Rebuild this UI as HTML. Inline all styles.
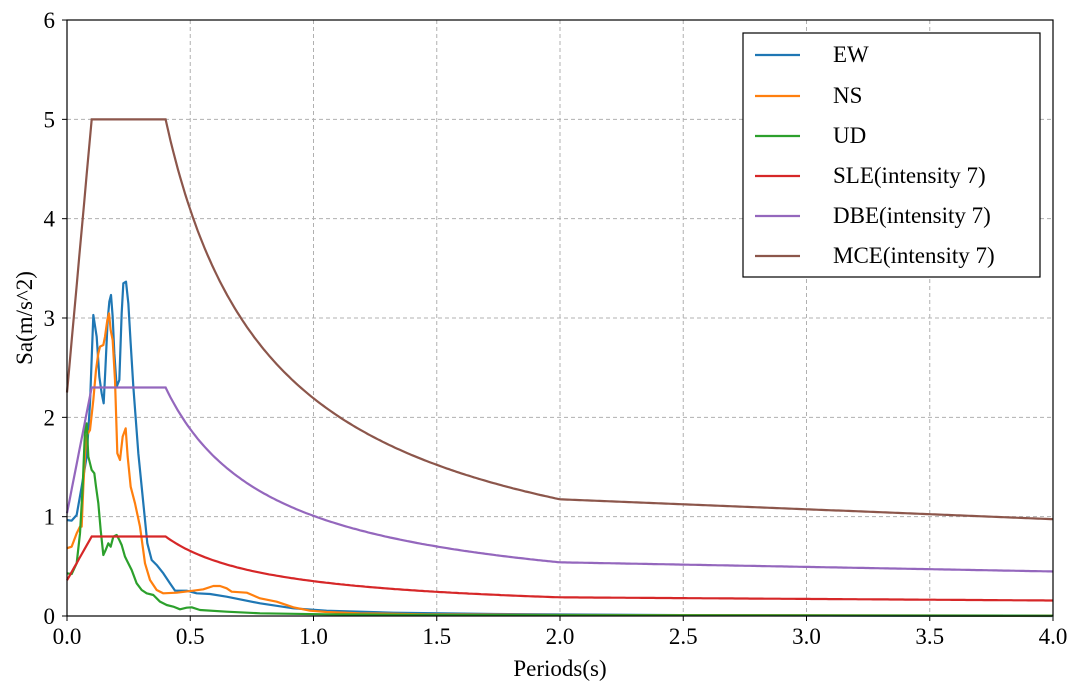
<!DOCTYPE html>
<html><head><meta charset="utf-8"><style>
body{margin:0;background:#fff}
svg text{font-family:"Liberation Serif",serif;fill:#000}
</style></head><body>
<svg id="s" width="1080" height="695" viewBox="0 0 1080 695" xmlns="http://www.w3.org/2000/svg">
<rect width="1080" height="695" fill="#fff"/>
<g id="grid" stroke="#b0b0b0" stroke-width="1" stroke-dasharray="4,3"></g>
<g id="ticks" font-size="23"></g>
<g transform="translate(60,270) scale(0.33333)" fill="none" stroke-width="2.2" stroke-linejoin="round">
<polyline vector-effect="non-scaling-stroke" stroke="#1f77b4" points="20,750 35,752 50,735 65,650 80,560 90,400 100,135 110,200 118,320 125,370 131,400 136,300 143,150 148,95 153,75 158,140 163,250 170,350 178,330 185,130 190,40 198,35 205,100 212,220 220,350 235,550 250,700 262,820 275,870 290,885 310,910 330,940 345,962 380,962 410,970 450,972 500,980 600,1000 700,1015 800,1022 1000,1028 1300,1032 2000,1036 2979,1038"/>
<polyline vector-effect="non-scaling-stroke" stroke="#ff7f0e" points="20,835 35,830 50,790 60,770 65,770 70,650 78,500 90,480 100,390 108,300 115,250 120,230 130,225 135,200 142,150 147,130 152,180 158,210 165,330 172,550 180,570 188,500 197,475 203,560 212,650 225,700 240,770 255,880 270,930 290,960 310,970 350,968 400,962 430,958 460,948 480,948 500,955 515,965 560,968 600,985 650,995 700,1012 750,1022 800,1026 900,1030 1100,1033 1500,1035 2979,1037"/>
<polyline vector-effect="non-scaling-stroke" stroke="#2ca02c" points="20,910 35,912 50,880 60,790 68,650 75,480 80,460 85,560 95,600 103,610 108,650 115,700 122,780 130,855 137,840 145,820 152,830 160,800 170,795 178,810 185,825 195,860 205,880 215,900 230,940 245,960 260,970 280,975 300,995 320,1005 340,1010 360,1018 380,1013 395,1012 420,1020 500,1025 600,1030 800,1033 1200,1035 2979,1037"/>
</g>
<g id="codes" fill="none" stroke-width="2.2"></g>
<rect x="67" y="20" width="986" height="596" fill="none" stroke="#000" stroke-width="1.2"/>
<g font-size="23">
<rect x="743" y="33" width="297" height="244" fill="#fff" stroke="#000" stroke-width="1.2"/>
<line x1="755" x2="800" y1="55" y2="55" stroke="#1f77b4" stroke-width="2.2"/><text x="833" y="62">EW</text>
<line x1="755" x2="800" y1="96" y2="96" stroke="#ff7f0e" stroke-width="2.2"/><text x="833" y="103">NS</text>
<line x1="755" x2="800" y1="136" y2="136" stroke="#2ca02c" stroke-width="2.2"/><text x="833" y="143">UD</text>
<line x1="755" x2="800" y1="176" y2="176" stroke="#d62728" stroke-width="2.2"/><text x="833" y="183">SLE(intensity 7)</text>
<line x1="755" x2="800" y1="216" y2="216" stroke="#9467bd" stroke-width="2.2"/><text x="833" y="223">DBE(intensity 7)</text>
<line x1="755" x2="800" y1="256" y2="256" stroke="#8c564b" stroke-width="2.2"/><text x="833" y="263">MCE(intensity 7)</text>
<text x="560" y="676" text-anchor="middle">Periods(s)</text>
<text transform="translate(32,318) rotate(-90)" text-anchor="middle">Sa(m/s^2)</text>
</g>
</svg>
<script>
var NS="http://www.w3.org/2000/svg";
function X(t){return 67+t*246.5}function Y(v){return 616-v*99.33}
var g=document.getElementById('grid'),tk=document.getElementById('ticks');
function el(p,n,a,txt){var e=document.createElementNS(NS,n);for(var k in a)e.setAttribute(k,a[k]);if(txt!=null)e.textContent=txt;p.appendChild(e);return e}
for(var i=0;i<=8;i++){var x=X(i*0.5);if(i>0&&i<8)el(g,'line',{x1:x,x2:x,y1:20,y2:616});
el(tk,'line',{x1:x,x2:x,y1:616,y2:621,stroke:'#000'});el(tk,'text',{x:x,y:644,'text-anchor':'middle'},(i*0.5).toFixed(1));}
for(var j=0;j<=6;j++){var y=Y(j);if(j>0&&j<6)el(g,'line',{x1:67,x2:1053,y1:y,y2:y});
el(tk,'line',{x1:62,x2:67,y1:y,y2:y,stroke:'#000'});el(tk,'text',{x:55,y:y+8,'text-anchor':'end'},j);}
var c=document.getElementById('codes');
[[0.8,'#d62728'],[2.3,'#9467bd'],[5.0,'#8c564b']].forEach(function(a){var m=a[0],p=[];
for(var t=0;t<=4.0001;t+=0.01){var v;if(t<0.1)v=0.45*m+(m-0.45*m)*t/0.1;else if(t<=0.4)v=m;else if(t<=2)v=m*Math.pow(0.4/t,0.9);else v=m*(Math.pow(0.2,0.9)-0.02*(t-2));p.push(X(t).toFixed(1)+','+Y(v).toFixed(1));}
el(c,'polyline',{points:p.join(' '),stroke:a[1]});});
</script>
</body></html>
